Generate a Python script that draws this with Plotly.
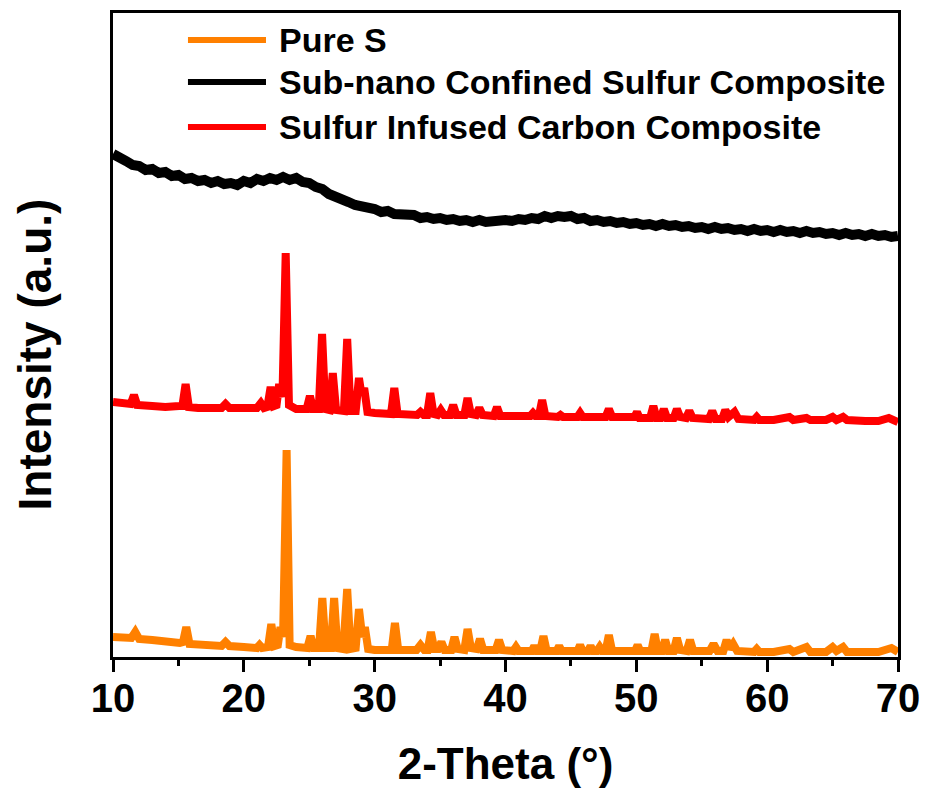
import plotly.graph_objects as go

# ---------------- data (arbitrary intensity units) ----------------
pure_s_x = [10.0, 10.5, 11.0, 11.4, 11.7, 12.0, 13.0, 14.0, 15.1, 15.35, 15.6, 15.85, 16.5, 17.5,
            18.3, 18.6, 18.9, 20.0, 21.0, 21.2, 21.4, 21.85, 22.1, 22.35, 22.6, 22.8, 23.0, 23.27,
            23.5, 24.0, 24.85, 25.1, 25.35, 25.75, 26.0, 26.25, 26.65, 26.9, 27.15, 27.6, 27.9,
            28.15, 28.55, 28.8, 29.05, 29.25, 29.5, 30.0, 31.0, 31.3, 31.55, 31.8, 33.2, 33.5,
            33.8, 34.05, 34.3, 34.55, 34.85, 35.1, 35.35, 35.85, 36.1, 36.35, 36.85, 37.1, 37.35,
            37.8, 38.05, 38.3, 39.25, 39.5, 39.75, 40.6, 40.8, 41.0, 42.0, 42.2, 42.4, 42.65, 42.9,
            43.15, 43.9, 44.1, 44.3, 45.5, 45.7, 45.9, 46.3, 46.5, 46.7, 47.0, 47.2, 47.4, 47.65,
            47.9, 48.15, 49.9, 50.1, 50.3, 51.15, 51.4, 51.65, 51.95, 52.2, 52.45, 52.85, 53.1,
            53.35, 53.85, 54.1, 54.35, 55.6, 55.9, 56.2, 56.65, 56.9, 57.15, 57.4, 57.7, 59.0,
            59.2, 59.4, 60.5, 61.7, 62.0, 63.0, 63.3, 64.5, 65.0, 65.3, 65.8, 66.1, 67.5, 68.5,
            69.5, 70.0]
pure_s_y = [20, 20, 19, 19, 25, 18, 17, 15, 14, 15, 30, 13, 12, 12,
            11, 15, 11, 10, 9, 12, 9, 10, 33, 11, 12, 30, 20, 207,
            12, 10, 9, 21, 9, 9, 59, 9, 9, 59, 9, 8, 68,
            8, 9, 48, 20, 30, 8, 7, 7, 7, 34, 7, 7, 12,
            7, 7, 25, 8, 8, 15, 7, 7, 20, 8, 7, 28, 9,
            8, 18, 7, 7, 17, 7, 6, 10, 6, 6, 11, 6, 6, 21,
            6, 6, 11, 6, 6, 12, 6, 6, 11, 6, 6, 10, 6, 6,
            22, 6, 6, 12, 6, 6, 23, 6, 6, 17, 6, 6, 19,
            7, 6, 17, 6, 6, 13, 6, 6, 17, 8, 13, 6, 5,
            8, 5, 5, 8, 5, 10, 5, 5, 10, 6, 10, 5, 5, 5,
            9, 5]

sub_nano_x = [10.0, 10.5, 11.0, 11.5, 12.0, 12.5, 13.0, 13.5, 14.0, 14.5, 15.0, 15.5, 16.0, 16.5,
              17.0, 17.5, 18.0, 18.5, 19.0, 19.5, 20.0, 20.5, 21.0, 21.5, 22.0, 22.5, 23.0, 23.5,
              24.0, 24.5, 25.0, 25.5, 26.0, 26.5, 27.0, 27.5, 28.0, 28.5, 29.0, 29.5, 30.0, 30.5,
              31.0, 31.5, 32.0, 32.5, 33.0, 33.5, 34.0, 34.5, 35.0, 35.5, 36.0, 36.5, 37.0, 37.5,
              38.0, 38.5, 39.0, 39.5, 40.0, 40.5, 41.0, 41.5, 42.0, 42.5, 43.0, 43.5, 44.0, 44.5,
              45.0, 45.5, 46.0, 46.5, 47.0, 47.5, 48.0, 48.5, 49.0, 49.5, 50.0, 50.5, 51.0, 51.5,
              52.0, 52.5, 53.0, 53.5, 54.0, 54.5, 55.0, 55.5, 56.0, 56.5, 57.0, 57.5, 58.0, 58.5,
              59.0, 59.5, 60.0, 60.5, 61.0, 61.5, 62.0, 62.5, 63.0, 63.5, 64.0, 64.5, 65.0, 65.5,
              66.0, 66.5, 67.0, 67.5, 68.0, 68.5, 69.0, 69.5, 70.0]
sub_nano_y = [503, 498, 496, 492, 491, 487, 488, 484, 485, 481, 482, 478, 479, 476,
              477, 474, 476, 473, 474, 472, 476, 474, 478, 476, 479, 477, 480, 477,
              479, 475, 474, 470, 468, 463, 461, 457, 455, 452, 451, 448, 448, 445,
              446, 443, 443, 441, 442, 439, 440, 438, 439, 437, 438, 436, 437, 435,
              437, 435, 436, 435, 437, 436, 438, 437, 439, 438, 441, 439, 441, 440,
              441, 438, 439, 436, 437, 435, 436, 434, 435, 433, 434, 432, 433, 431,
              433, 431, 432, 430, 431, 429, 430, 428, 430, 428, 429, 427, 428, 426,
              428, 426, 427, 425, 427, 425, 426, 424, 426, 424, 425, 423, 424, 422,
              424, 422, 423, 421, 423, 421, 422, 420, 421]

infused_x = [10.0, 10.5, 11.0, 11.35, 11.6, 11.85, 13.0, 14.0, 15.05, 15.3, 15.55, 15.8, 16.5, 17.5,
             18.3, 18.6, 18.9, 20.0, 21.0, 21.3, 21.55, 21.8, 22.05, 22.3, 22.5, 22.7, 22.95, 23.2,
             23.45, 24.0, 24.8, 25.05, 25.3, 25.73, 25.98, 26.23, 26.55, 26.8, 27.05, 27.65, 27.9,
             28.15, 28.55, 28.8, 29.0, 29.2, 29.45, 30.0, 31.0, 31.25, 31.5, 31.75, 33.25, 33.5,
             33.75, 34.0, 34.25, 34.5, 34.8, 35.05, 35.3, 35.75, 36.0, 36.25, 36.85, 37.1, 37.35,
             37.75, 38.0, 38.25, 39.1, 39.35, 39.6, 40.5, 40.7, 40.9, 41.9, 42.1, 42.3, 42.55, 42.8,
             43.05, 44.0, 44.2, 44.4, 45.5, 45.7, 45.9, 46.3, 46.45, 46.65, 47.0, 47.2, 47.4, 47.65,
             47.9, 48.15, 49.85, 50.05, 50.25, 51.05, 51.3, 51.55, 51.85, 52.1, 52.35, 52.85, 53.1,
             53.35, 53.8, 54.05, 54.3, 55.55, 55.8, 56.05, 56.55, 56.8, 57.05, 57.5, 57.8, 59.0,
             59.2, 59.4, 60.5, 61.7, 62.0, 63.0, 63.3, 64.5, 65.0, 65.3, 65.8, 66.1, 67.5, 68.5,
             69.3, 70.0]
infused_y = [255, 254, 253, 253, 262, 252, 251, 250, 251, 251, 273, 250, 249, 249,
             249, 253, 249, 249, 249, 254, 249, 250, 270, 251, 252, 273, 260, 404,
             252, 248, 248, 261, 248, 248, 323, 248, 247, 284, 247, 246, 318,
             246, 246, 279, 262, 269, 245, 244, 243, 243, 269, 243, 242, 245,
             242, 242, 264, 243, 242, 247, 242, 242, 252, 242, 242, 259, 243,
             242, 249, 242, 241, 250, 241, 241, 243, 241, 241, 244, 241, 241, 257,
             241, 240, 242, 240, 240, 244, 240, 240, 242, 240, 240, 241, 240, 240,
             248, 240, 240, 245, 239, 239, 251, 239, 239, 248, 239, 239, 248,
             240, 239, 246, 239, 238, 246, 238, 238, 247, 240, 245, 238, 237,
             240, 237, 237, 240, 237, 239, 237, 237, 240, 237, 240, 237, 236, 236,
             239, 235]

series_names = ["Pure S", "Sub-nano Confined Sulfur Composite", "Sulfur Infused Carbon Composite"]
series_colors = ["#FF8000", "#000000", "#FF0000"]

x_tick_vals = [10, 20, 30, 40, 50, 60, 70]
x_tick_text = ["10", "20", "30", "40", "50", "60", "70"]

# ---------------- figure ----------------
FONT = "Liberation Sans, Arial, sans-serif"
fig = go.Figure()

fig.add_trace(go.Scatter(x=pure_s_x, y=pure_s_y, mode="lines", name=series_names[0],
                         line=dict(color=series_colors[0], width=8), showlegend=False))
fig.add_trace(go.Scatter(x=infused_x, y=infused_y, mode="lines", name=series_names[2],
                         line=dict(color=series_colors[2], width=8), showlegend=False))
fig.add_trace(go.Scatter(x=sub_nano_x, y=sub_nano_y, mode="lines", name=series_names[1],
                         line=dict(color=series_colors[1], width=10), showlegend=False))

# manual legend (long line samples as in the original)
legend_rows_y = [0.958, 0.893, 0.823]
for name, color, yy in zip(series_names, series_colors, legend_rows_y):
    fig.add_shape(type="line", xref="paper", yref="paper", x0=0.0955, x1=0.1949, y0=yy, y1=yy,
                  line=dict(color=color, width=6))
    fig.add_annotation(xref="paper", yref="paper", x=0.2089, y=yy, text=name, showarrow=False,
                       xanchor="left", yanchor="middle",
                       font=dict(family=FONT, size=34, color="black", weight="bold"))

# y axis title
fig.add_annotation(xref="paper", yref="paper", x=-0.100, y=0.469, text="Intensity (a.u.)",
                   textangle=-90, showarrow=False, xanchor="center", yanchor="middle",
                   font=dict(family=FONT, size=46, color="black", weight="bold"))

fig.update_layout(
    width=925, height=796,
    margin=dict(l=113, r=27, t=13, b=139, autoexpand=False),
    paper_bgcolor="white", plot_bgcolor="white",
    showlegend=False,
    xaxis=dict(range=[10, 70], tickvals=x_tick_vals, ticktext=x_tick_text,
               ticks="outside", ticklen=12, tickwidth=3, tickcolor="black",
               ticklabelstandoff=-8, automargin=False,
               minor=dict(dtick=5, ticks="outside", ticklen=6, tickwidth=3, tickcolor="black"),
               showline=True, linewidth=3, linecolor="black", mirror=True,
               showgrid=False, zeroline=False,
               tickfont=dict(family=FONT, size=40, color="black", weight="bold"),
               title=dict(text="2-Theta (°)", standoff=30,
                          font=dict(family=FONT, size=44, color="black", weight="bold"))),
    xaxis2=dict(matches="x", overlaying="x", side="top", anchor="y",
                tick0=10, dtick=5, ticks="inside", ticklen=4, tickwidth=2, tickcolor="black",
                showticklabels=False, showline=False, showgrid=False, zeroline=False,
                automargin=False),
    yaxis=dict(range=[0, 644], showticklabels=False, ticks="", automargin=False,
               showline=True, linewidth=3, linecolor="black", mirror=True,
               showgrid=False, zeroline=False),
)

fig.write_html("out.html")
